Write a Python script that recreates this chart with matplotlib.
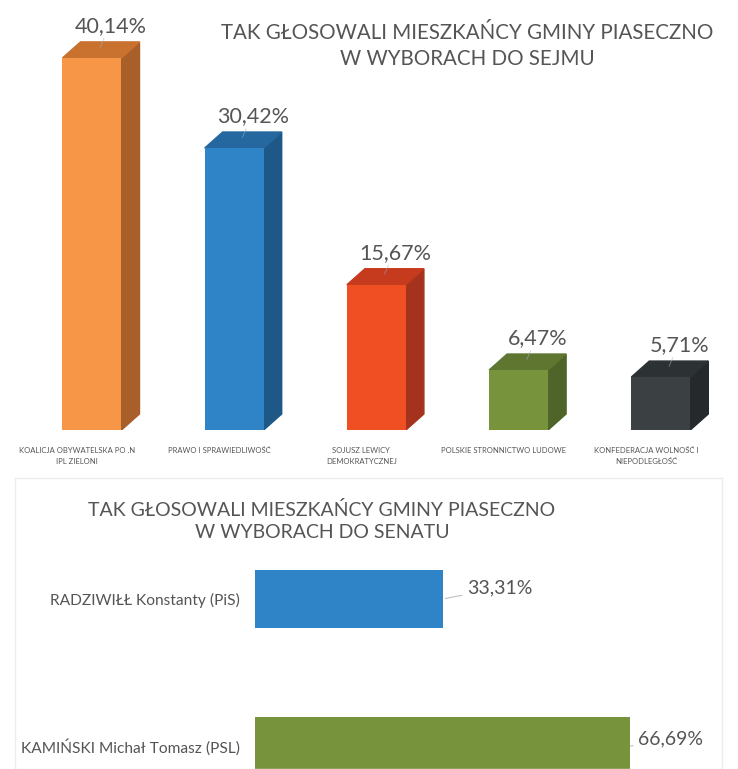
import matplotlib.pyplot as plt
from matplotlib.patches import Polygon, Rectangle

plt.rcParams['font.family'] = ['Lato', 'DejaVu Sans']

# ===== dane =====
sejm_parties = ['KOALICJA OBYWATELSKA PO .N\nIPL ZIELONI', 'PRAWO I SPRAWIEDLIWOŚĆ',
                'SOJUSZ LEWICY\nDEMOKRATYCZNEJ', 'POLSKIE STRONNICTWO LUDOWE',
                'KONFEDERACJA WOLNOŚĆ I\nNIEPODLEGŁOŚĆ']
sejm_values = [40.14, 30.42, 15.67, 6.47, 5.71]
sejm_labels = ['40,14%', '30,42%', '15,67%', '6,47%', '5,71%']

senat_names = ['RADZIWIŁŁ Konstanty (PiS)', 'KAMIŃSKI Michał Tomasz (PSL)']
senat_values = [33.31, 66.69]
senat_labels = ['33,31%', '66,69%']

# ===== styl =====
FRONT = ['#F79646', '#2E84C6', '#F04E23', '#77933C', '#3B4043']
TOP = ['#C9712F', '#24689F', '#C63A1D', '#5E7630', '#2C3133']
SIDE = ['#A95F2A', '#1E5886', '#A5321C', '#4F6428', '#25292B']
SENAT_COLORS = ['#2E84C6', '#77933C']
TEXT = '#555555'

W, H = 738, 769
fig = plt.figure(figsize=(W / 100, H / 100), dpi=100)

# --- wykres Sejm (słupki 3D) ---
PX_PER_PCT = 9.27
STEP = 142.2
ax = fig.add_axes([0, (H - 430) / H, 1, 430 / H])
ax.set_xlim(-92 / STEP, (W - 92) / STEP)
ax.set_ylim(0, 430 / PX_PER_PCT)
ax.axis('off')

bw = 59 / STEP
dx = 18 / STEP
dy = 16 / PX_PER_PCT
for i, v in enumerate(sejm_values):
    x0 = i - bw / 2
    x1 = i + bw / 2
    ax.bar(i, v, width=bw, color=FRONT[i], zorder=3)
    ax.add_patch(Polygon([(x1, 0), (x1 + dx, dy), (x1 + dx, v + dy), (x1, v)],
                         closed=True, color=SIDE[i], zorder=2))
    ax.add_patch(Polygon([(x0, v), (x1, v), (x1 + dx, v + dy), (x0 + dx, v + dy)],
                         closed=True, color=TOP[i], zorder=2))
    ax.annotate(sejm_labels[i], (i, v), xytext=(19, 32), textcoords='offset pixels',
                ha='center', va='center', fontsize=15.5, color=TEXT)
    ax.annotate('', (i + dx * 0.4, v + dy * 0.5), xytext=(i + 13 / STEP, v + 22 / PX_PER_PCT),
                arrowprops=dict(arrowstyle='-', color='#9fb3c8', lw=0.6, alpha=0.6))
    ax.text(i - 15 / STEP, -17 / PX_PER_PCT, sejm_parties[i], ha='center', va='top',
            fontsize=5.5, color=TEXT, linespacing=1.6)

fig.text(467 / W, 1 - 46 / H, 'TAK GŁOSOWALI MIESZKAŃCY GMINY PIASECZNO\nW WYBORACH DO SEJMU',
         ha='center', va='center', fontsize=14.8, color=TEXT, linespacing=1.35)

# --- wykres Senat ---
fig.add_artist(Rectangle((15 / W, 0), 707 / W, (H - 478) / H, transform=fig.transFigure,
                         facecolor='none', edgecolor='#ececec', lw=1))
fig.text(322 / W, 1 - 521 / H, 'TAK GŁOSOWALI MIESZKAŃCY GMINY PIASECZNO\nW WYBORACH DO SENATU',
         ha='center', va='center', fontsize=14, color=TEXT, linespacing=1.35)

SX = 5.63
SSTEP = 147
ax2 = fig.add_axes([255 / W, 0, (W - 255) / W, (H - 560) / H])
ax2.set_xlim(0, (W - 255) / SX)
ax2.set_ylim((H - 599) / SSTEP, (560 - 599) / SSTEP)
ax2.barh(range(len(senat_values)), senat_values, height=58 / SSTEP, color=SENAT_COLORS)
ax2.set_yticks(range(len(senat_names)))
ax2.set_yticklabels(senat_names, fontsize=11.2, color=TEXT)
ax2.tick_params(axis='y', length=0, pad=11)
ax2.set_xticks([])
for s in ax2.spines.values():
    s.set_visible(False)

label_offsets = [(25, 11), (8, 7)]
for i, v in enumerate(senat_values):
    ox, oy = label_offsets[i]
    ax2.annotate(senat_labels[i], (v, i), xytext=(ox, oy), textcoords='offset pixels',
                 ha='left', va='center', fontsize=14, color=TEXT,
                 arrowprops=dict(arrowstyle='-', color='#bfbfbf', lw=0.8,
                                 shrinkA=2, shrinkB=2))

fig.savefig('out.png', dpi=100, facecolor='white')
